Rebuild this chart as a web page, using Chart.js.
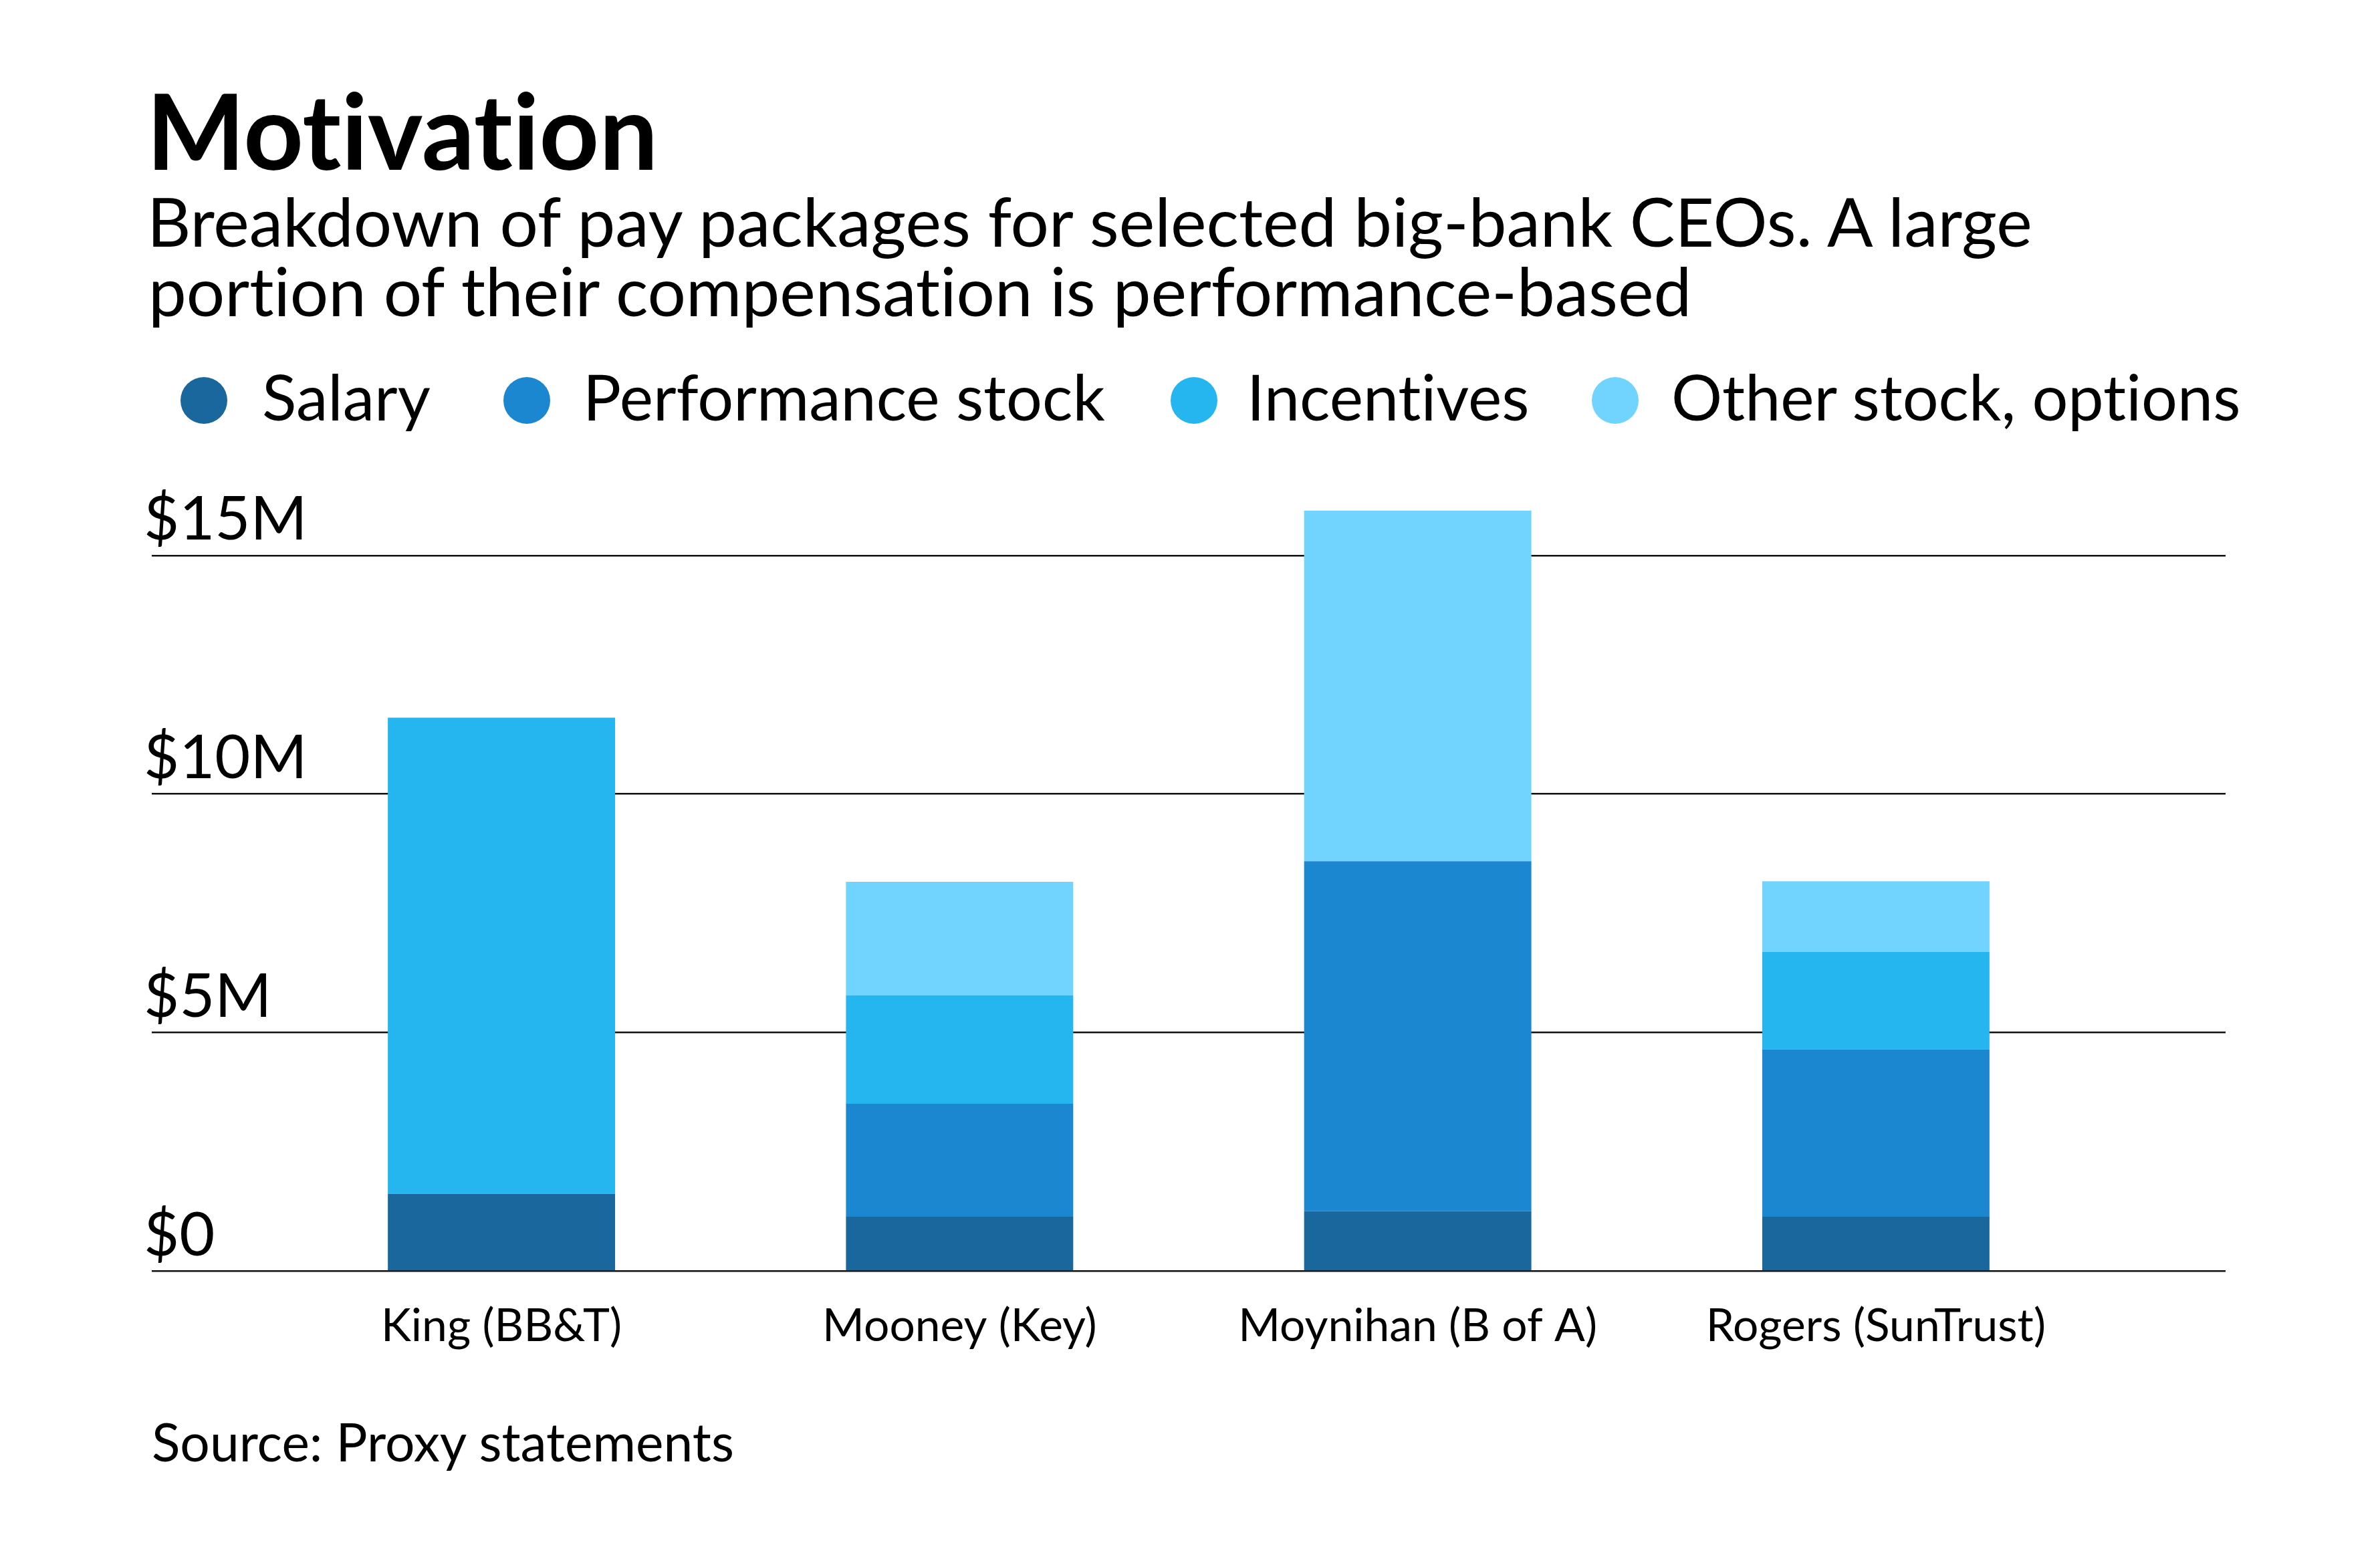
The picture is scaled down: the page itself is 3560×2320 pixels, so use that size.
<!DOCTYPE html>
<html>
<head>
<meta charset="utf-8">
<script src="https://cdn.jsdelivr.net/npm/chart.js@4.4.1/dist/chart.umd.min.js"></script>
<style>
  html, body { margin: 0; padding: 0; background: #fff; width: 3560px; height: 2320px; overflow: hidden; }
  #wrap { position: relative; width: 3560px; height: 2320px; background: #fff; }
  #c { position: absolute; left: 0; top: 0; }
  .t { position: absolute; white-space: nowrap; color: #000; font-variant-ligatures: none; font-feature-settings: "liga" 0, "clig" 0; }
  .dot { position: absolute; border-radius: 50%; }
</style>
</head>
<body>
<div id="wrap">
  <canvas id="c" width="3560" height="2320"></canvas>
</div>
<script>
// ---------------- DATA ----------------
const categories = ['King (BB&T)', 'Mooney (Key)', 'Moynihan (B of A)', 'Rogers (SunTrust)'];
const seriesNames = ['Salary', 'Performance stock', 'Incentives', 'Other stock, options'];
const salary = [1.62, 1.14, 1.26, 1.14];
const performanceStock = [0, 2.37, 7.33, 3.51];
const incentives = [9.98, 2.27, 0, 2.04];
const otherStock = [0, 2.38, 7.35, 1.48];
const yTicks = [0, 5, 10, 15];
const yTickLabels = ['$0', '$5M', '$10M', '$15M'];
const titleText = 'Motivation';
const subtitleLines = ['Breakdown of pay packages for selected big-bank CEOs. A large',
                       'portion of their compensation is performance-based'];
const sourceText = 'Source: Proxy statements';

// ---------------- STYLE ----------------
const FONT = 'Lato';
const colors = ['#1a679e', '#1b87d0', '#25b6f0', '#70d4fe'];
const seriesValues = [salary, performanceStock, incentives, otherStock];

const wrap = document.getElementById('wrap');
const mcanvas = document.createElement('canvas');
const mctx = mcanvas.getContext('2d');
try { mctx.fontVariantLigatures = 'none'; } catch (e) {}
function measure(text, weight, size) {
  mctx.font = `${weight} ${size}px ${FONT}`;
  return mctx.measureText(text);
}
function visWidth(text, weight, size) {
  const m = measure(text, weight, size);
  return m.actualBoundingBoxLeft + m.actualBoundingBoxRight;
}
function fitSize(pairs, weight) {
  let s = 0;
  for (const [t, w] of pairs) s += 100 * w / visWidth(t, weight, 100);
  return s / pairs.length;
}
function addText(text, visLeft, baseline, size, weight) {
  const el = document.createElement('div');
  el.className = 't';
  el.textContent = text;
  el.style.font = `${weight} ${size}px ${FONT}`;
  el.style.fontVariantLigatures = 'none';
  const m = measure(text, weight, size);
  const asc = m.fontBoundingBoxAscent, desc = m.fontBoundingBoxDescent;
  el.style.lineHeight = (asc + desc) + 'px';
  el.style.left = (visLeft + m.actualBoundingBoxLeft) + 'px';
  el.style.top = (baseline - asc) + 'px';
  wrap.appendChild(el);
}
function addDot(cx, cy, d, color) {
  const el = document.createElement('div');
  el.className = 'dot';
  el.style.left = (cx - d / 2) + 'px';
  el.style.top = (cy - d / 2) + 'px';
  el.style.width = d + 'px';
  el.style.height = d + 'px';
  el.style.background = color;
  wrap.appendChild(el);
}

// Title & subtitle
const titleSize = fitSize([[titleText, 750]], 700);
addText(titleText, 231, 254, titleSize, 700);
const subSize = fitSize([[subtitleLines[0], 2831], [subtitleLines[1], 2293]], 400);
addText(subtitleLines[0], 229, 369, subSize, 400);
addText(subtitleLines[1], 229, 473, subSize, 400);

// Legend
const legendDotX = [305, 788, 1786, 2416];
const legendTextX = [395, 880, 1873, 2504];
const legendWidths = [257, 770, 408, 831];
const legendSize = fitSize(seriesNames.map((n, i) => [n, legendWidths[i]]), 400);
seriesNames.forEach((n, i) => {
  addDot(legendDotX[i], 599, 70, colors[i]);
  addText(n, legendTextX[i], 629, legendSize, 400);
});

// Source
const sourceSize = fitSize([[sourceText, 868]], 400);
addText(sourceText, 229, 2186, sourceSize, 400);

// ---------------- CHART ----------------
const xLabelSize = fitSize([[categories[0], 344], [categories[1], 400], [categories[2], 529], [categories[3], 512]], 400);
const yLabelSize = fitSize([['$15M', 224], ['$10M', 232], ['$5M', 187]], 400);

const chartLeft = 227, chartRight = 3329, chartBottom = 1901.4, yMax = 16;
const pxPerUnit = 71.37;
const chartTop = chartBottom - yMax * pxPerUnit;
const xAxisH = 200;

new Chart(document.getElementById('c'), {
  type: 'bar',
  data: {
    datasets: seriesNames.map((name, k) => ({
      label: name,
      data: seriesValues[k].map((v, i) => ({ x: i, y: v })),
      backgroundColor: colors[k],
      borderWidth: 0,
      barPercentage: 0.496,
      categoryPercentage: 1
    }))
  },
  options: {
    responsive: false,
    animation: false,
    devicePixelRatio: 1,
    layout: { padding: { left: chartLeft, right: 3560 - chartRight, top: chartTop, bottom: 2320 - chartBottom - xAxisH } },
    plugins: { legend: { display: false }, tooltip: { enabled: false }, title: { display: false } },
    scales: {
      x: {
        type: 'linear',
        stacked: true,
        min: -0.7633,
        max: categories.length - 1 + 0.7633,
        offset: false,
        grid: { display: false },
        border: { display: false },
        ticks: {
          stepSize: 1,
          includeBounds: false,
          autoSkip: false,
          maxRotation: 0,
          minRotation: 0,
          padding: 96 - 0.92 * xLabelSize,
          color: '#000',
          font: { family: FONT, size: xLabelSize, weight: 400 },
          callback: (v) => (Number.isInteger(v) && categories[v] !== undefined) ? categories[v] : ''
        },
        afterFit: (s) => { s.height = xAxisH; }
      },
      y: {
        stacked: true,
        min: 0,
        max: yMax,
        grid: { color: '#111', lineWidth: 2.5, drawTicks: false },
        border: { display: false },
        ticks: {
          stepSize: 5,
          includeBounds: false,
          mirror: true,
          padding: -12,
          labelOffset: -24 - 0.32 * yLabelSize,
          color: '#000',
          font: { family: FONT, size: yLabelSize, weight: 400 },
          callback: (v) => { const i = yTicks.indexOf(v); return i >= 0 ? yTickLabels[i] : ''; }
        },
        afterFit: (s) => { s.width = 0; }
      }
    }
  }
});
</script>
</body>
</html>
